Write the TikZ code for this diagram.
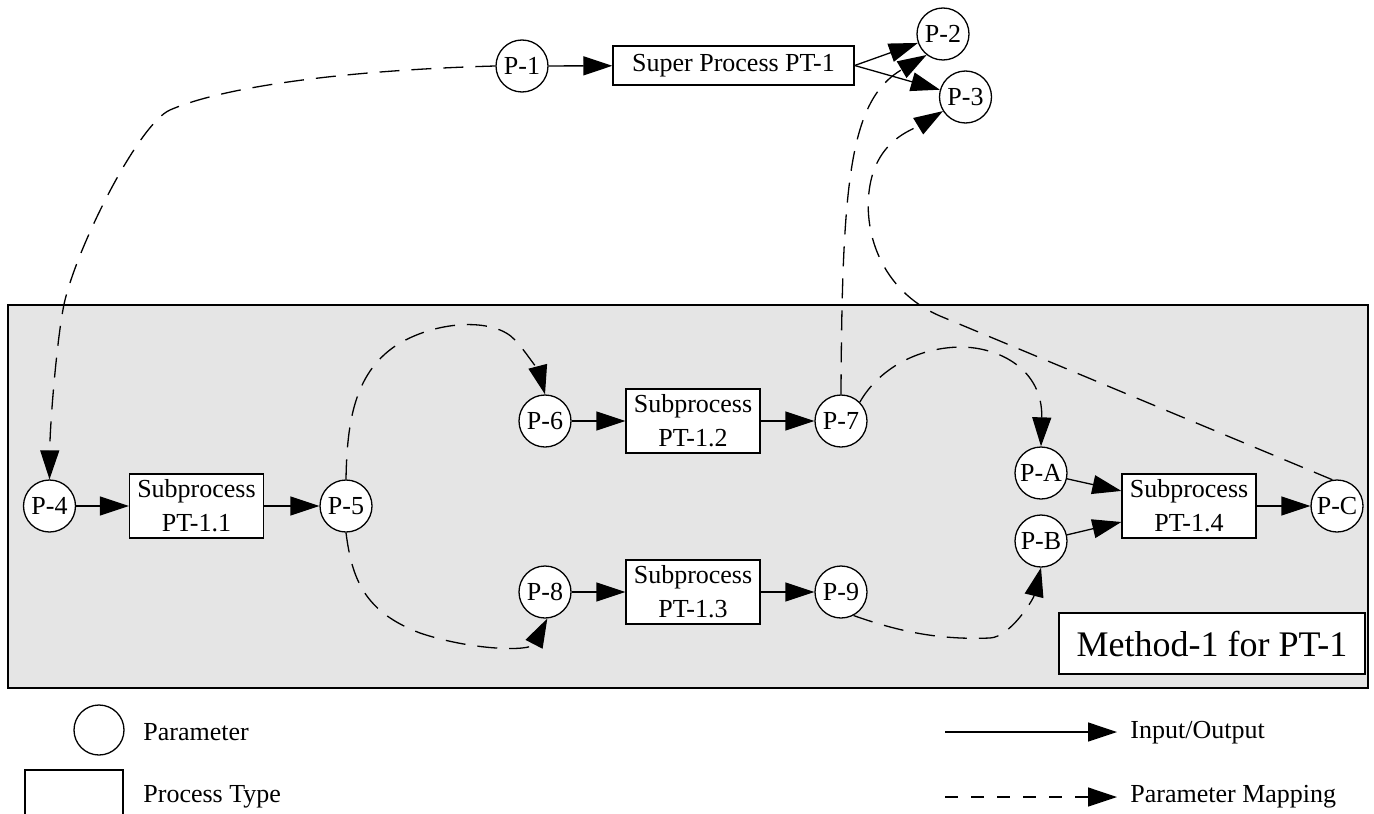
\documentclass[tikz,border=0pt]{standalone}
\usepackage{fontspec}
\setmainfont{Liberation Serif}
\usetikzlibrary{arrows.meta}
\newcommand{\mainfs}{\fontsize{13pt}{17pt}\selectfont}
\newcommand{\bigfs}{\fontsize{18pt}{22pt}\selectfont}
\begin{document}
\begin{tikzpicture}[x=0.5pt,y=-0.5pt,
  param/.style={circle,draw,fill=white,minimum size=26pt,inner sep=0pt,line width=0.65pt,font=\mainfs},
  proc/.style={rectangle,draw,fill=white,inner sep=0pt,line width=0.65pt,align=center,font=\mainfs},
  subproc/.style={proc,minimum width=67pt,minimum height=32pt},
  io/.style={-{Triangle[length=14.5pt,width=9.5pt]},line width=0.65pt},
  mapping/.style={io,dash pattern=on 10pt off 6pt},
  legtext/.style={anchor=west,inner sep=0pt,font=\mainfs},
]
\useasboundingbox (0,0) rectangle (1374,813);
% method container
\draw[fill=gray!20,line width=0.65pt] (8,305) rectangle (1368,688);

% nodes
\node[param] (P1) at (522,66) {P-1};
\node[proc,minimum width=120.5pt,minimum height=19.5pt] (super) at (733.5,65.5) {Super Process PT-1};
\node[param] (P2) at (943,34) {P-2};
\node[param] (P3) at (965.5,97) {P-3};

\node[param] (P4) at (49.5,506) {P-4};
\node[subproc] (S11) at (196.5,506) {Subprocess\\PT-1.1};
\node[param] (P5) at (346,506) {P-5};

\node[param] (P6) at (545,421) {P-6};
\node[subproc] (S12) at (693,421) {Subprocess\\PT-1.2};
\node[param] (P7) at (841,421) {P-7};

\node[param] (P8) at (545,592) {P-8};
\node[subproc] (S13) at (693,592) {Subprocess\\PT-1.3};
\node[param] (P9) at (841,592) {P-9};

\node[param] (PA) at (1041,473) {P-A};
\node[param] (PB) at (1041,541) {P-B};
\node[subproc] (S14) at (1189,506) {Subprocess\\PT-1.4};
\node[param] (PC) at (1337,506) {P-C};

\node[proc,minimum width=153pt,minimum height=30.5pt,font=\bigfs] (method) at (1212,643.5) {Method-1 for PT-1};

% input/output arrows
\draw[io] (P1) -- (super);
\draw[io] (super.east) -- (P2);
\draw[io] (super.east) -- (P3);
\draw[io] (P4) -- (S11);
\draw[io] (S11) -- (P5);
\draw[io] (P6) -- (S12);
\draw[io] (S12) -- (P7);
\draw[io] (P8) -- (S13);
\draw[io] (S13) -- (P9);
\draw[io] (PA) -- (S14);
\draw[io] (PB) -- (S14);
\draw[io] (S14) -- (PC);

% parameter mappings
\draw[mapping] (P1.west) .. controls (350,70) and (225,86) .. (170,110)
  .. controls (140,123) and (80,240) .. (65,300)
  .. controls (58,328) and (50,420) .. (P4.north);
\draw[mapping] (P5.north) .. controls (347,420) and (355,370) .. (400,343)
  .. controls (440,320) and (495,318) .. (515,340)
  .. controls (528,354) and (540,375) .. (P6.north);
\draw[mapping] (P5.south) .. controls (352,580) and (365,612) .. (420,633)
  .. controls (470,650) and (530,652) .. (P8.275);
\draw[mapping] (P7.north) .. controls (842,180) and (850,100) .. (P2.232);
\draw[mapping] (PC.100) -- (940,316) .. controls (880,290) and (862,230) .. (870,185)
  .. controls (878,140) and (912,130) .. (P3.212);
\draw[mapping] (P7.45) .. controls (875,375) and (910,348) .. (960,347)
  .. controls (1000,347) and (1043,370) .. (PA.north);
\draw[mapping] (P9.-62) .. controls (900,632) and (940,640) .. (990,638)
  .. controls (1010,637) and (1033,600) .. (PB.south);

% legend
\node[param,minimum size=25pt] (legpar) at (99,730) {};
\node[legtext] (legpartext) at (143,732) {Parameter};
\node[proc,minimum width=49pt,minimum height=30pt] (legproc) at (74,800) {};
\node[legtext] (legproctext) at (143,797) {Process Type};
\coordinate (ioA) at (945,732);
\coordinate (ioB) at (1117,732);
\node[legtext] (iotext) at (1130,733) {Input/Output};
\draw[io] (ioA) -- (ioB);
\coordinate (mapA) at (945,797);
\coordinate (mapB) at (1117,797);
\node[legtext] (maptext) at (1130,797) {Parameter Mapping};
\draw[io,dash pattern=on 6.5pt off 6.5pt] (mapA) -- (mapB);
\end{tikzpicture}
\end{document}
